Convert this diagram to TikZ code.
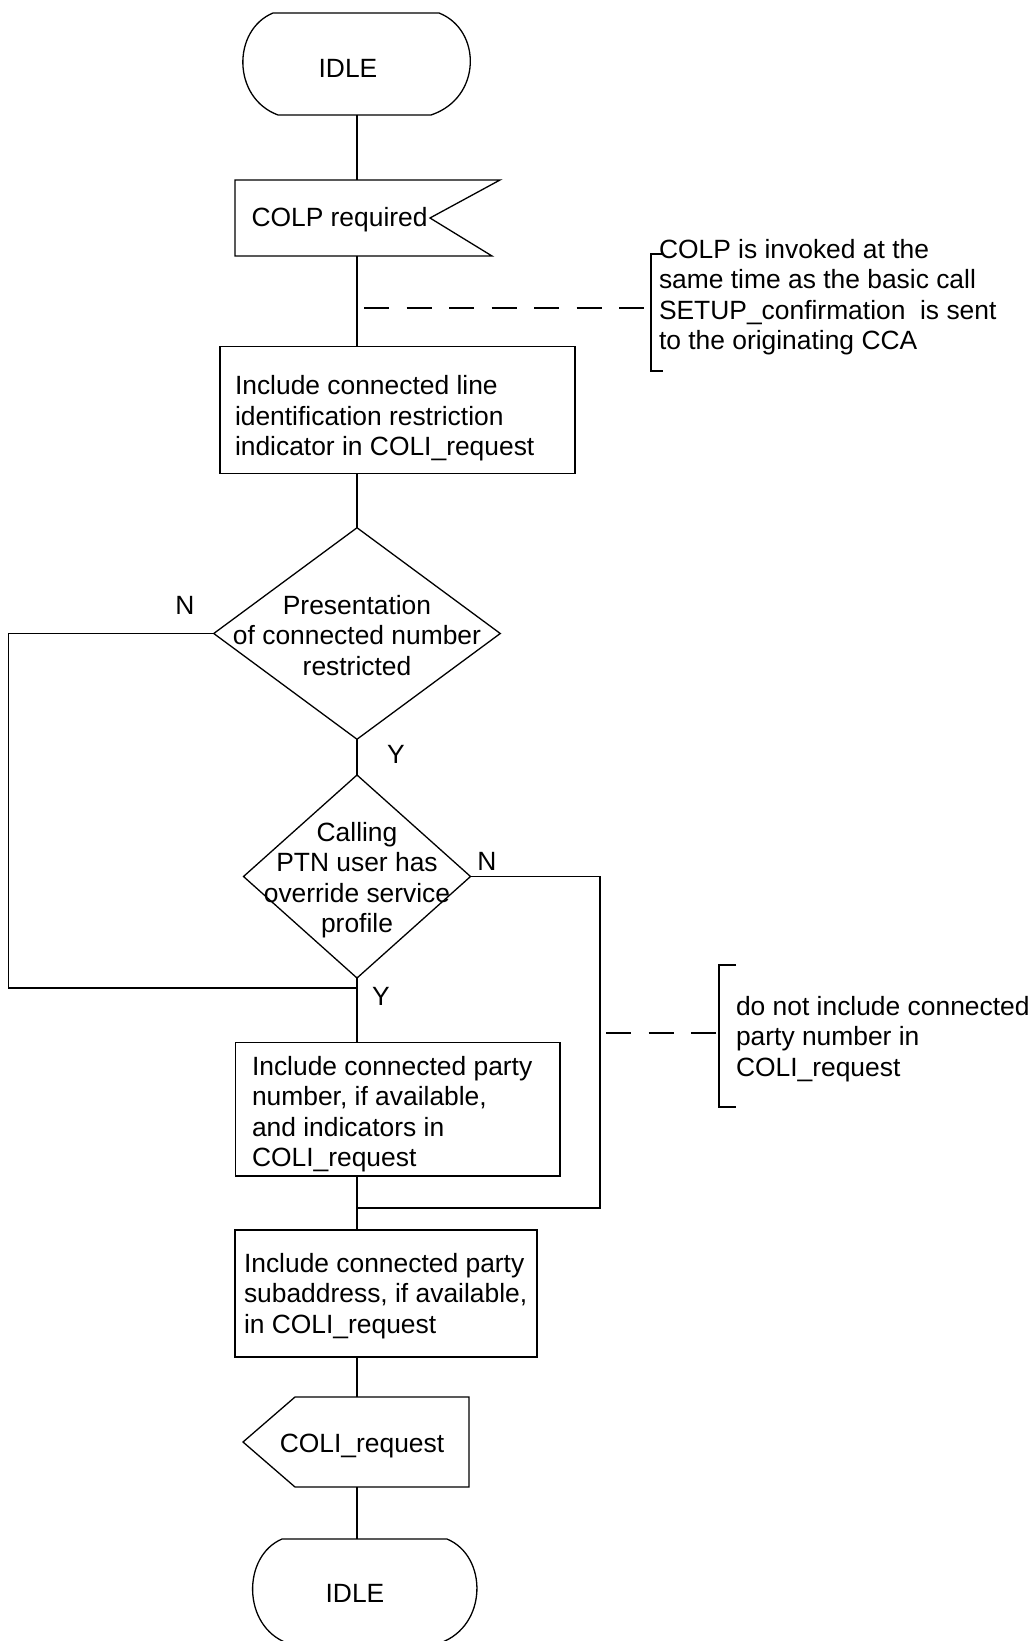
\documentclass[tikz,border=0pt]{standalone}
\usepackage{fontspec}
\setmainfont{Liberation Sans}
\usetikzlibrary{shapes.geometric}

\begin{document}
\begin{tikzpicture}[x=0.5pt,y=-0.5pt,line width=0.65pt,
  every node/.style={inner sep=0pt,outer sep=0pt},
  txtfont/.style={font=\fontsize{13.2pt}{15.25pt}\selectfont},
  lbl/.style={txtfont,align=left,anchor=base west},
  clbl/.style={txtfont,align=center,anchor=base},
  area/.style={rectangle,draw=none},
  procbox/.style={rectangle,draw},
  decision/.style={diamond,draw},
  dashes/.style={dash pattern=on 12.5pt off 8.75pt}]
\useasboundingbox (0,0) rectangle (1032,1641);

% main column; multi-line texts are placed by the baseline of their last line
\coordinate (col) at (357,0);

% start state
\node[area,minimum width=114pt,minimum height=51pt] (idleA) at (357,64) {};
\draw (273,13) -- (439,13) .. controls (482,30) and (482,98) .. (431,115)
  -- (278,115) .. controls (232,98) and (232,30) .. (273,13);
\node[clbl] (idleAt) at (348,78) {IDLE};

% input signal
\node[area,minimum width=132.5pt,minimum height=38pt] (colp) at (367.5,218) {};
\draw (235,180) -- (500,180) -- (430,218) -- (492,256) -- (235,256) -- cycle;
\node[lbl] (colpt) at (251.5,227) {COLP required};

% task boxes and decisions
\node[procbox,minimum width=177.5pt,minimum height=63.5pt] (box1) at (397.5,410) {};
\node[lbl] (box1t) at (235,456) {Include connected line\\identification restriction\\indicator in COLI\_request};

\node[decision,minimum width=143.25pt,minimum height=105.75pt] (dia1) at (357,633.5) {};
\node[clbl] (dia1t) at (357,675) {Presentation\\of connected number\\restricted};

\node[decision,minimum width=113.5pt,minimum height=101.5pt] (dia2) at (357,876.5) {};
\node[clbl] (dia2t) at (357,932.5) {Calling\\PTN user has\\override service\\profile};

\node[procbox,minimum width=162.25pt,minimum height=66.75pt] (box2) at (397.75,1109.25) {};
\node[lbl] (box2t) at (252,1166.5) {Include connected party\\number, if available,\\and indicators in\\COLI\_request};

\node[procbox,minimum width=151pt,minimum height=63.5pt] (box3) at (386,1293.5) {};
\node[lbl] (box3t) at (244,1333) {Include connected party\\subaddress, if available,\\in COLI\_request};

% output signal
\node[area,minimum width=113pt,minimum height=45pt] (coli) at (356,1442) {};
\draw (243,1442) -- (295,1397) -- (469,1397) -- (469,1487) -- (295,1487) -- cycle;
\node[clbl] (colit) at (362,1452) {COLI\_request};

% end state
\node[area,minimum width=113pt,minimum height=52pt] (idleB) at (365,1591) {};
\draw (282,1539) -- (447,1539) .. controls (488,1556) and (488,1626) .. (440,1643)
  -- (287,1643) .. controls (242,1626) and (242,1556) .. (282,1539);
\node[clbl] (idleBt) at (355,1602) {IDLE};

% flow lines
\draw (idleA.south) -- (col |- colp.north);
\draw (col |- colp.south) -- (col |- box1.north);
\draw (col |- box1.south) -- (dia1.north);
\draw (dia1.south) -- (dia2.north);
\draw (dia2.south) -- (col |- box2.north);
\draw (col |- box2.south) -- (col |- box3.north);
\draw (col |- box3.south) -- (col |- coli.north);
\draw (col |- coli.south) -- (col |- idleB.north);

% branches
\coordinate (j1) at (357,988);
\coordinate (j2) at (357,1208);
\coordinate (lx) at (8.5,0);
\coordinate (rx) at (600,0);
\draw (dia1.west) -- (dia1.west -| lx) |- (j1);
\draw (dia2.east) -- (dia2.east -| rx) |- (j2);

\node[clbl] (n1) at (185,614) {N};
\node[clbl] (y1) at (396,763) {Y};
\node[clbl] (n2) at (487,870) {N};
\node[clbl] (y2) at (381,1005) {Y};

% comments
\coordinate (d1a) at (364,308);
\coordinate (d1b) at (651,308);
\draw[dashes] (d1a) -- (d1b);
\draw (663,254) -- (651,254) -- (651,371) -- (663,371);
\node[lbl] (note1) at (659,350) {COLP is invoked at the\\same time as the basic call\\SETUP\_confirmation\ \ is sent\\to the originating CCA};

\coordinate (d2a) at (606,1033);
\coordinate (d2b) at (719,1033);
\draw[dashes] (d2a) -- (d2b);
\draw (736,965) -- (719,965) -- (719,1107) -- (736,1107);
\node[lbl] (note2) at (736,1076) {do not include connected\\party number in\\COLI\_request};
\end{tikzpicture}
\end{document}
